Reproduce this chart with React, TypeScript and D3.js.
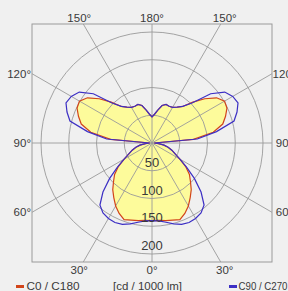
import React from "react";
import * as d3 from "d3";

const angles = [0,5,10,15,20,25,30,35,40,45,50,55,60,65,70,75,80,85,90,95,100,105,110,115,120,125,130,135,140,145,150,155,160,165,170,175,180];
const c0c180 = [140,140,142,144,147,140,131,120,110,98,88,74,58,46,38,30,22,12,4,75,112,132,141,149,151,142,124,104,86,79,74,73,74,70,60,52,47];
const c90c270 = [140,141,145,151,156,158,157,154,146,125,100,76,58,46,38,30,22,12,4,82,118,153,163,171,168,160,138,102,86,79,74,73,74,70,60,52,47];
const ringValues = [50,100,150,200];
const rayAngles = [0,30,60,90,120,150,180];
const topLabels = [{a:150,s:-1,t:"150°"},{a:180,s:0,t:"180°"},{a:150,s:1,t:"150°"}];
const bottomLabels = [{a:30,s:-1,t:"30°"},{a:0,s:0,t:"0°"},{a:30,s:1,t:"30°"}];
const sideLabels = [{a:120,t:"120°"},{a:90,t:"90°"},{a:60,t:"60°"}];
const unitLabel = "[cd / 1000 lm]";
const legend = [{name:"C0 / C180", color:"#d2451a"},{name:"C90 / C270", color:"#3c2fc4"}];

const W = 288, H = 291;
const cx = 152, cy = 143;
const box = {x0:32, x1:272, y0:24, y1:262};
const font = "'Liberation Sans', Arial, Helvetica, sans-serif";

export default function App() {
  const r = d3.scaleLinear().domain([0,200]).range([0,111]);
  const toRad = (deg: number) => deg * Math.PI / 180;

  const fullCurve = (vals: number[]) => {
    const pts: [number, number][] = [];
    angles.forEach((a, i) => pts.push([Math.PI - toRad(a), r(vals[i])]));
    for (let i = angles.length - 2; i >= 1; i--) pts.push([Math.PI + toRad(angles[i]), r(vals[i])]);
    return pts;
  };
  const radial = d3.lineRadial<[number, number]>().angle(d => d[0]).radius(d => d[1]).curve(d3.curveLinearClosed);

  const redPath = radial(fullCurve(c0c180)) || "";
  const bluePath = radial(fullCurve(c90c270)) || "";

  const rayEnd = (deg: number, side: number) => {
    const dx = side * Math.sin(toRad(deg));
    const dy = Math.cos(toRad(deg));
    const tx = Math.abs(dx) > 1e-9 ? (side > 0 ? box.x1 - cx : cx - box.x0) / Math.abs(dx) : Infinity;
    const ty = Math.abs(dy) > 1e-9 ? (dy > 0 ? box.y1 - cy : cy - box.y0) / Math.abs(dy) : Infinity;
    const t = Math.min(tx, ty);
    return [cx + dx * t, cy + dy * t];
  };

  const rays: number[][] = [];
  rayAngles.forEach(a => {
    [-1, 1].forEach(s => {
      if ((a === 0 || a === 180) && s === 1) return;
      rays.push(rayEnd(a, s));
    });
  });

  const textColor = "#3a3a3a";
  const grid = "#9a9a9a";
  const fs = 11.5;

  return (
    <svg width={W} height={H} style={{position:"absolute", left:0, top:0}} fontFamily={font}>
      <rect x={0} y={0} width={W} height={H} fill="#f0f0f0" />
      <path d={redPath} transform={`translate(${cx},${cy})`} fill="#fdfb9b" stroke="none" />
      {ringValues.map(v => (
        <circle key={v} cx={cx} cy={cy} r={r(v)} fill="none" stroke={grid} strokeWidth={0.9} />
      ))}
      {rays.map((p, i) => (
        <line key={i} x1={cx} y1={cy} x2={p[0]} y2={p[1]} stroke={grid} strokeWidth={0.9} />
      ))}
      <rect x={box.x0} y={box.y0} width={box.x1 - box.x0} height={box.y1 - box.y0} fill="none" stroke={grid} strokeWidth={1} />
      <path d={redPath} transform={`translate(${cx},${cy})`} fill="none" stroke="#d2451a" strokeWidth={1.2} />
      <path d={bluePath} transform={`translate(${cx},${cy})`} fill="none" stroke="#3c2fc4" strokeWidth={1.2} />
      {ringValues.map(v => (
        <text key={v} x={cx} y={cy + r(v) - 4} textAnchor="middle" fontSize={13} fill={textColor}>{v}</text>
      ))}
      {topLabels.map((l, i) => (
        <text key={i} x={cx + l.s * (cy - 17) * Math.tan(toRad(180 - l.a))} y={21.5} textAnchor="middle" fontSize={fs} fill={textColor}>{l.t}</text>
      ))}
      {bottomLabels.map((l, i) => (
        <text key={i} x={cx + l.s * (269 - cy) * Math.tan(toRad(l.a))} y={273.5} textAnchor="middle" fontSize={fs} fill={textColor}>{l.t}</text>
      ))}
      {sideLabels.map((l, i) => {
        const p = rayEnd(l.a, -1);
        return <text key={"l" + i} x={31} y={p[1] + 4} textAnchor="end" fontSize={fs} fill={textColor}>{l.t}</text>;
      })}
      {sideLabels.map((l, i) => {
        const p = rayEnd(l.a, 1);
        return <text key={"r" + i} x={284.5} y={p[1] + 4} textAnchor="middle" fontSize={fs} fill={textColor}>{l.t}</text>;
      })}
      <rect x={16} y={285} width={8} height={3} fill={legend[0].color} />
      <text x={26.5} y={290} fontSize={fs} textLength={53} lengthAdjust="spacingAndGlyphs" fill={textColor}>{legend[0].name}</text>
      <text x={113} y={290} fontSize={fs} textLength={69} lengthAdjust="spacingAndGlyphs" fill={textColor}>{unitLabel}</text>
      <rect x={229} y={285} width={8} height={3} fill={legend[1].color} />
      <text x={238.5} y={290} fontSize={fs} textLength={49} lengthAdjust="spacingAndGlyphs" fill={textColor}>{legend[1].name}</text>
    </svg>
  );
}
